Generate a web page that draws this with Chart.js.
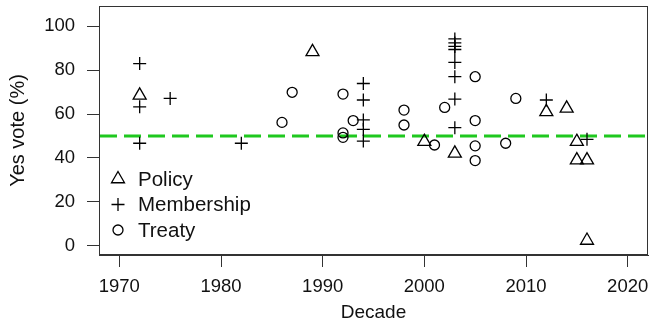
<!DOCTYPE html>
<html><head><meta charset="utf-8">
<script src="https://cdn.jsdelivr.net/npm/chart.js@4/dist/chart.umd.min.js"></script>
<style>html,body{margin:0;padding:0;background:#fff}#wrap{width:650px;height:328px}</style>
</head><body><div id="wrap"><canvas id="c" width="650" height="328"></canvas></div>
<script>
const xTicks = [1970, 1980, 1990, 2000, 2010, 2020];
const yTicks = [0, 20, 40, 60, 80, 100];
const seriesNames = ['Policy', 'Membership', 'Treaty'];
const policyYear = [1972, 1989, 2000, 2003, 2012, 2014, 2015, 2015, 2016, 2016];
const policyYes  = [68.5, 88.3, 47.4, 42.1, 61.0, 62.6, 47.4, 39.0, 39.0, 2.4];
const memberYear = [1972, 1972, 1972, 1975, 1982, 1994, 1994, 1994, 1994, 1994,
                    2003, 2003, 2003, 2003, 2003, 2003, 2003, 2003, 2012, 2016];
const memberYes  = [83.0, 63.3, 46.7, 67.1, 46.7, 73.9, 66.4, 57.3, 53.0, 47.7,
                    94.2, 92.4, 90.8, 89.4, 83.5, 77.0, 66.8, 53.8, 66.4, 48.5];
const treatyYear = [1986, 1987, 1992, 1992, 1992, 1993, 1998, 1998, 2001, 2002,
                    2005, 2005, 2005, 2005, 2008, 2009];
const treatyYes  = [56.2, 69.9, 69.1, 51.4, 49.4, 57.0, 61.8, 55.0, 45.9, 63.0,
                    77.0, 57.0, 45.5, 38.8, 46.7, 67.1];
const refLine = 50;

const FONT = '"Liberation Sans", Arial, Helvetica, sans-serif';
const pts = (xs, ys) => xs.map((x, i) => ({x: x, y: ys[i]}));

const common = {borderColor: '#000', backgroundColor: 'rgba(0,0,0,0)', borderWidth: 1.3};
const datasets = [
  Object.assign({label: seriesNames[0], data: pts(policyYear, policyYes), pointStyle: 'triangle', pointRadius: 7.5}, common),
  Object.assign({label: seriesNames[1], data: pts(memberYear, memberYes), pointStyle: 'cross', pointRadius: 6.5}, common),
  Object.assign({label: seriesNames[2], data: pts(treatyYear, treatyYes), pointStyle: 'circle', pointRadius: 5}, common)
];

const framePlugin = {
  id: 'frame',
  beforeDatasetsDraw(chart) {
    const {ctx, chartArea: a, scales: {y}} = chart;
    const yy = y.getPixelForValue(refLine);
    ctx.save();
    ctx.strokeStyle = '#1fc81f';
    ctx.lineWidth = 3;
    ctx.setLineDash([17, 7]);
    ctx.beginPath();
    ctx.moveTo(a.left + 1, yy);
    ctx.lineTo(a.right - 1, yy);
    ctx.stroke();
    ctx.restore();
  },
  afterDraw(chart) {
    const {ctx, chartArea: a} = chart;
    ctx.save();
    ctx.strokeStyle = '#333';
    ctx.lineWidth = 1;
    ctx.strokeRect(Math.round(a.left) + 0.5, Math.round(a.top) + 0.5,
                   Math.round(a.right - a.left) - 1, Math.round(a.bottom - a.top) - 1);
    // legend
    const x0 = a.left + 19, y0 = 179, dy = 25.5;
    chart.data.datasets.forEach((ds, i) => {
      const yy = y0 + i * dy;
      ctx.strokeStyle = '#000';
      ctx.fillStyle = 'rgba(0,0,0,0)';
      ctx.lineWidth = ds.borderWidth;
      ctx.setLineDash([]);
      Chart.helpers.drawPoint(ctx, {pointStyle: ds.pointStyle, radius: ds.pointRadius, borderWidth: ds.borderWidth}, x0, yy);
      ctx.fillStyle = '#111';
      ctx.font = '20.5px ' + FONT;
      ctx.textBaseline = 'middle';
      ctx.textAlign = 'left';
      ctx.fillText(ds.label, x0 + 20, yy + 1);
    });
    ctx.restore();
  }
};

new Chart(document.getElementById('c'), {
  type: 'scatter',
  data: {datasets: datasets},
  options: {
    responsive: false,
    animation: false,
    layout: {autoPadding: false, padding: {top: 6, right: 2, left: 0, bottom: 0}},
    plugins: {legend: {display: false}, tooltip: {enabled: false}},
    scales: {
      x: {
        type: 'linear', min: 1968, max: 2022,
        afterBuildTicks: s => { s.ticks = xTicks.map(v => ({value: v})); },
        afterFit: s => { s.height = 73; s.paddingLeft = 0; s.paddingRight = 0; },
        grid: {drawOnChartArea: false, drawTicks: true, tickLength: 12, tickColor: '#333', tickWidth: 1},
        border: {display: true, color: '#333', width: 1},
        ticks: {color: '#111', font: {family: FONT, size: 18.5}, padding: 9, maxRotation: 0, autoSkip: false,
                callback: v => String(v)},
        title: {display: true, text: 'Decade', color: '#111', font: {family: FONT, size: 19}, padding: {top: 0, bottom: 4}}
      },
      y: {
        type: 'linear', min: -4.2, max: 109.2,
        afterBuildTicks: s => { s.ticks = yTicks.map(v => ({value: v})); },
        afterFit: s => { s.width = 99; s.paddingTop = 0; s.paddingBottom = 0; },
        grid: {drawOnChartArea: false, drawTicks: true, tickLength: 12, tickColor: '#333', tickWidth: 1},
        border: {display: true, color: '#333', width: 1},
        ticks: {color: '#111', font: {family: FONT, size: 18.5}, padding: 12, autoSkip: false,
                callback: v => String(v)},
        title: {display: true, text: 'Yes vote (%)', color: '#111', font: {family: FONT, size: 20}, padding: {top: 6, bottom: 0}}
      }
    }
  },
  plugins: [framePlugin]
});
</script>
</body></html>
